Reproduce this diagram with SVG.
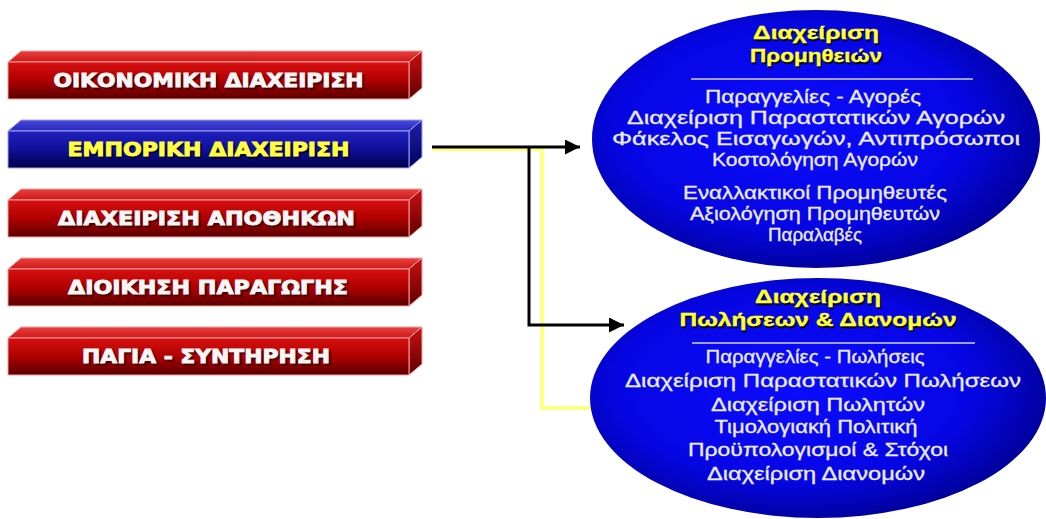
<svg xmlns="http://www.w3.org/2000/svg" width="1046" height="519" viewBox="0 0 1046 519">
  <style>
    .bartext { font-family: "DejaVu Sans", "Liberation Sans", sans-serif; font-weight: bold; font-size: 19px; text-anchor: middle; stroke-width: 0.9; }
    .white { fill: #f6f6f6; stroke: #f6f6f6; }
    .yellowbar { fill: #ffff40; stroke: #ffff40; }
    .shadow { fill: #2a0000; stroke: #2a0000; opacity: 0.65; }
    .bshadow { fill: #000030; stroke: #000030; opacity: 0.8; }
    .title { font-family: "Liberation Sans", "DejaVu Sans", sans-serif; font-weight: bold; font-size: 19px; text-anchor: middle; fill: #ffff33; stroke: #ffff33; stroke-width: 0.4; }
    .tshadow { font-family: "Liberation Sans", "DejaVu Sans", sans-serif; font-weight: bold; font-size: 19px; text-anchor: middle; fill: #000020; stroke: #000020; stroke-width: 0.4; }
    .body { font-family: "Liberation Sans", "DejaVu Sans", sans-serif; font-size: 18px; text-anchor: middle; fill: #ececf6; stroke: #ececf6; stroke-width: 0.3; }
    .sep { stroke: #d0d0f4; stroke-width: 1.5; }
    .wire { fill: none; stroke: #000; stroke-width: 3; }
    .glow { fill: none; stroke: #ffff80; stroke-width: 4; }
  </style>
  <defs>
    <linearGradient id="redFront" x1="0" y1="0" x2="0" y2="1">
      <stop offset="0" stop-color="#d81010"/>
      <stop offset="0.5" stop-color="#b00000"/>
      <stop offset="1" stop-color="#5a0000"/>
    </linearGradient>
    <linearGradient id="redTop" x1="0" y1="0" x2="0" y2="1">
      <stop offset="0" stop-color="#e84040"/>
      <stop offset="1" stop-color="#d01818"/>
    </linearGradient>
    <linearGradient id="redSide" x1="0" y1="0" x2="0" y2="1">
      <stop offset="0" stop-color="#c81010"/>
      <stop offset="1" stop-color="#600000"/>
    </linearGradient>
    <linearGradient id="blueFront" x1="0" y1="0" x2="0" y2="1">
      <stop offset="0" stop-color="#2020c0"/>
      <stop offset="0.5" stop-color="#10109a"/>
      <stop offset="1" stop-color="#00004a"/>
    </linearGradient>
    <linearGradient id="blueTop" x1="0" y1="0" x2="0" y2="1">
      <stop offset="0" stop-color="#4848d8"/>
      <stop offset="1" stop-color="#2828c0"/>
    </linearGradient>
    <linearGradient id="blueSide" x1="0" y1="0" x2="0" y2="1">
      <stop offset="0" stop-color="#2020b0"/>
      <stop offset="1" stop-color="#00005a"/>
    </linearGradient>
    <radialGradient id="oval" cx="0.45" cy="0.45" r="0.6">
      <stop offset="0" stop-color="#0c0cff"/>
      <stop offset="0.65" stop-color="#0606e4"/>
      <stop offset="1" stop-color="#000090"/>
    </radialGradient>
    <marker id="arrow" viewBox="0 0 10 10" refX="10" refY="5" markerWidth="5" markerHeight="5" markerUnits="strokeWidth" orient="auto">
      <path d="M0,0 L10,5 L0,10 Z" fill="#000"/>
    </marker>
    <!-- one red bar: front face, top face, side face -->
    <g id="redBar">
      <polygon points="8,0 21,-11 422,-11 409,0" fill="url(#redTop)" stroke="#f4a0a0" stroke-width="1"/>
      <polygon points="409,0 422,-11 422,26 409,37" fill="url(#redSide)" stroke="#f4a0a0" stroke-width="1"/>
      <rect x="8" y="0" width="401" height="37" fill="url(#redFront)" stroke="#f0a0a0" stroke-width="1"/>
    </g>
    <g id="blueBar">
      <polygon points="8,0 21,-11 422,-11 409,0" fill="url(#blueTop)" stroke="#a0a0f0" stroke-width="1"/>
      <polygon points="409,0 422,-11 422,26 409,37" fill="url(#blueSide)" stroke="#a0a0f0" stroke-width="1"/>
      <rect x="8" y="0" width="401" height="37" fill="url(#blueFront)" stroke="#a0a0f0" stroke-width="1"/>
    </g>
  </defs>

  <rect width="1046" height="519" fill="#ffffff"/>

  <!-- connectors -->
  <g id="connectors">
    <polyline class="glow" points="432,149 542,149 542,408 592,408"/>
    <line class="wire" x1="432" y1="147" x2="580" y2="147" marker-end="url(#arrow)"/>
    <polyline class="wire" points="529,147 529,325 624,325" marker-end="url(#arrow)"/>
  </g>

  <!-- module bars -->
  <g id="bar-oikonomiki" transform="translate(0,62)">
    <use href="#redBar"/>
    <text class="bartext shadow" x="210.5" y="26.5" textLength="310" lengthAdjust="spacingAndGlyphs">ΟΙΚΟΝΟΜΙΚΗ ΔΙΑΧΕΙΡΙΣΗ</text>
    <text class="bartext white" x="208.5" y="25" textLength="310" lengthAdjust="spacingAndGlyphs">ΟΙΚΟΝΟΜΙΚΗ ΔΙΑΧΕΙΡΙΣΗ</text>
  </g>
  <g id="bar-emporiki" transform="translate(0,131)">
    <use href="#blueBar"/>
    <text class="bartext bshadow" x="210.5" y="26.5" textLength="282" lengthAdjust="spacingAndGlyphs">ΕΜΠΟΡΙΚΗ ΔΙΑΧΕΙΡΙΣΗ</text>
    <text class="bartext yellowbar" x="208.5" y="25" textLength="282" lengthAdjust="spacingAndGlyphs">ΕΜΠΟΡΙΚΗ ΔΙΑΧΕΙΡΙΣΗ</text>
  </g>
  <g id="bar-apothikes" transform="translate(0,200)">
    <use href="#redBar"/>
    <text class="bartext shadow" x="208.5" y="26.5" textLength="297" lengthAdjust="spacingAndGlyphs">ΔΙΑΧΕΙΡΙΣΗ ΑΠΟΘΗΚΩΝ</text>
    <text class="bartext white" x="206.5" y="25" textLength="297" lengthAdjust="spacingAndGlyphs">ΔΙΑΧΕΙΡΙΣΗ ΑΠΟΘΗΚΩΝ</text>
  </g>
  <g id="bar-paragogi" transform="translate(0,269)">
    <use href="#redBar"/>
    <text class="bartext shadow" x="210" y="26.5" textLength="280" lengthAdjust="spacingAndGlyphs">ΔΙΟΙΚΗΣΗ ΠΑΡΑΓΩΓΗΣ</text>
    <text class="bartext white" x="208" y="25" textLength="280" lengthAdjust="spacingAndGlyphs">ΔΙΟΙΚΗΣΗ ΠΑΡΑΓΩΓΗΣ</text>
  </g>
  <g id="bar-pagia" transform="translate(0,338)">
    <use href="#redBar"/>
    <text class="bartext shadow" x="208" y="26.5" textLength="248" lengthAdjust="spacingAndGlyphs">ΠΑΓΙΑ - ΣΥΝΤΗΡΗΣΗ</text>
    <text class="bartext white" x="206" y="25" textLength="248" lengthAdjust="spacingAndGlyphs">ΠΑΓΙΑ - ΣΥΝΤΗΡΗΣΗ</text>
  </g>

  <!-- purchasing oval -->
  <g id="oval-promitheies">
    <ellipse cx="816" cy="139" rx="224" ry="129" fill="url(#oval)"/>
    <text class="tshadow" x="817.5" y="40.5" textLength="126" lengthAdjust="spacingAndGlyphs">Διαχείριση</text>
    <text class="title" x="816" y="39" textLength="126" lengthAdjust="spacingAndGlyphs">Διαχείριση</text>
    <text class="tshadow" x="817.5" y="63.5" textLength="132" lengthAdjust="spacingAndGlyphs">Προμηθειών</text>
    <text class="title" x="816" y="62" textLength="132" lengthAdjust="spacingAndGlyphs">Προμηθειών</text>
    <line class="sep" x1="691" y1="79" x2="973" y2="79"/>
    <text class="body" x="813" y="103" textLength="216" lengthAdjust="spacingAndGlyphs">Παραγγελίες - Αγορές</text>
    <text class="body" x="816" y="124" textLength="378" lengthAdjust="spacingAndGlyphs">Διαχείριση Παραστατικών Αγορών</text>
    <text class="body" x="816" y="145" textLength="408" lengthAdjust="spacingAndGlyphs">Φάκελος Εισαγωγών, Αντιπρόσωποι</text>
    <text class="body" x="815" y="166" textLength="206" lengthAdjust="spacingAndGlyphs">Κοστολόγηση Αγορών</text>
    <text class="body" x="815" y="199" textLength="264" lengthAdjust="spacingAndGlyphs">Εναλλακτικοί Προμηθευτές</text>
    <text class="body" x="815" y="220" textLength="250" lengthAdjust="spacingAndGlyphs">Αξιολόγηση Προμηθευτών</text>
    <text class="body" x="815" y="241" textLength="94" lengthAdjust="spacingAndGlyphs">Παραλαβές</text>
  </g>

  <!-- sales and distribution oval -->
  <g id="oval-poliseis">
    <ellipse cx="818" cy="398" rx="228" ry="120" fill="url(#oval)"/>
    <text class="tshadow" x="819.5" y="304.5" textLength="126" lengthAdjust="spacingAndGlyphs">Διαχείριση</text>
    <text class="title" x="818" y="303" textLength="126" lengthAdjust="spacingAndGlyphs">Διαχείριση</text>
    <text class="tshadow" x="819.5" y="327.5" textLength="277" lengthAdjust="spacingAndGlyphs">Πωλήσεων &amp; Διανομών</text>
    <text class="title" x="818" y="326" textLength="277" lengthAdjust="spacingAndGlyphs">Πωλήσεων &amp; Διανομών</text>
    <line class="sep" x1="692" y1="343" x2="975" y2="343"/>
    <text class="body" x="815" y="363" textLength="219" lengthAdjust="spacingAndGlyphs">Παραγγελίες - Πωλήσεις</text>
    <text class="body" x="823" y="387" textLength="396" lengthAdjust="spacingAndGlyphs">Διαχείριση Παραστατικών Πωλήσεων</text>
    <text class="body" x="818" y="411" textLength="214" lengthAdjust="spacingAndGlyphs">Διαχείριση Πωλητών</text>
    <text class="body" x="816" y="433" textLength="203" lengthAdjust="spacingAndGlyphs">Τιμολογιακή Πολιτική</text>
    <text class="body" x="818" y="456" textLength="260" lengthAdjust="spacingAndGlyphs">Προϋπολογισμοί &amp; Στόχοι</text>
    <text class="body" x="816" y="480" textLength="218" lengthAdjust="spacingAndGlyphs">Διαχείριση Διανομών</text>
  </g>
</svg>
